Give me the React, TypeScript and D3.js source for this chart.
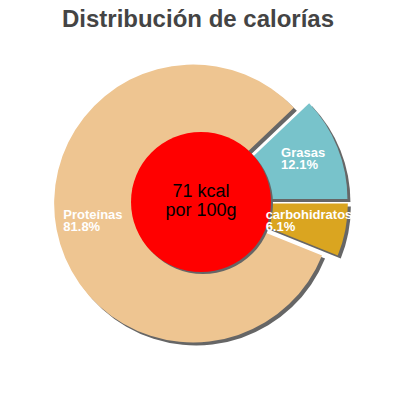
import React, { useEffect, useRef } from "react";
import * as d3 from "d3";

const title = "Distribución de calorías";
const categories = ["carbohidratos", "Proteínas", "Grasas"];
const percents = [6.1, 81.8, 12.1];
const colors = ["#daa520", "#eec591", "#78c3cb"];
const centerLines = ["71 kcal", "por 100g"];

const W = 400;
const H = 400;
const CX = 201;
const CY = 202;
const R = 139;
const INNER_R = 70;
const EXPLODE = 8;
const LABEL_R = 102;
const SHADOW_DX = 3;
const SHADOW_DY = 3;
const FONT = "'Liberation Sans', Arial, sans-serif";

export default function App() {
  const ref = useRef<SVGSVGElement | null>(null);

  useEffect(() => {
    const svg = d3.select(ref.current);
    svg.selectAll("*").remove();

    const data = categories.map((c, i) => ({ name: c, value: percents[i], color: colors[i] }));
    const pie = d3
      .pie<any>()
      .value((d) => d.value)
      .sort(null)
      .startAngle(Math.PI / 2)
      .endAngle(Math.PI / 2 + 2 * Math.PI);
    const arcs = pie(data);
    const arc = d3.arc<any>().innerRadius(0).outerRadius(R);

    const offset = (a: any) => {
      const m = (a.startAngle + a.endAngle) / 2;
      return [CX + EXPLODE * Math.sin(m), CY - EXPLODE * Math.cos(m)];
    };

    const shadows = svg.append("g");
    const slices = svg.append("g");
    arcs.forEach((a) => {
      const [ox, oy] = offset(a);
      shadows
        .append("path")
        .attr("d", arc(a) as string)
        .attr("transform", `translate(${ox + SHADOW_DX},${oy + SHADOW_DY})`)
        .attr("fill", "#666666");
      slices
        .append("path")
        .attr("d", arc(a) as string)
        .attr("transform", `translate(${ox},${oy})`)
        .attr("fill", a.data.color);
    });

    // center circle
    svg
      .append("circle")
      .attr("cx", CX + 2)
      .attr("cy", CY + 2)
      .attr("r", INNER_R)
      .attr("fill", "#666666");
    svg
      .append("circle")
      .attr("cx", CX)
      .attr("cy", CY)
      .attr("r", INNER_R)
      .attr("fill", "#ff0000");

    // center text
    svg
      .append("text")
      .attr("x", CX)
      .attr("y", CY - 5)
      .attr("text-anchor", "middle")
      .attr("font-family", FONT)
      .attr("font-size", 18)
      .attr("fill", "#000")
      .text(centerLines[0]);
    svg
      .append("text")
      .attr("x", CX)
      .attr("y", CY + 14)
      .attr("text-anchor", "middle")
      .attr("font-family", FONT)
      .attr("font-size", 18)
      .attr("fill", "#000")
      .text(centerLines[1]);

    // labels
    const labels = svg.append("g");
    arcs.forEach((a) => {
      const [ox, oy] = offset(a);
      const m = (a.startAngle + a.endAngle) / 2;
      const ax = ox + LABEL_R * Math.sin(m);
      const ay = oy - LABEL_R * Math.cos(m);
      const g = labels.append("g");
      const t1 = g
        .append("text")
        .attr("font-family", FONT)
        .attr("font-size", 13)
        .attr("font-weight", "bold")
        .attr("fill", "#fff")
        .attr("y", ay - 4)
        .text(a.data.name);
      const t2 = g
        .append("text")
        .attr("font-family", FONT)
        .attr("font-size", 13)
        .attr("font-weight", "bold")
        .attr("fill", "#fff")
        .attr("y", ay + 8)
        .text(`${a.data.value.toFixed(1)}%`);
      const w1 = (t1.node() as SVGTextElement).getComputedTextLength();
      const w2 = (t2.node() as SVGTextElement).getComputedTextLength();
      const w = Math.max(w1, w2);
      t1.attr("x", ax - w / 2);
      t2.attr("x", ax - w / 2);
    });

    // title
    svg
      .append("text")
      .attr("x", W / 2 - 2)
      .attr("y", 27)
      .attr("text-anchor", "middle")
      .attr("font-family", FONT)
      .attr("font-size", 24)
      .attr("font-weight", "bold")
      .attr("fill", "#444444")
      .text(title);
  }, []);

  return (
    <svg
      ref={ref}
      width={W}
      height={H}
      style={{ position: "absolute", left: 0, top: 0, background: "#fff" }}
    />
  );
}
